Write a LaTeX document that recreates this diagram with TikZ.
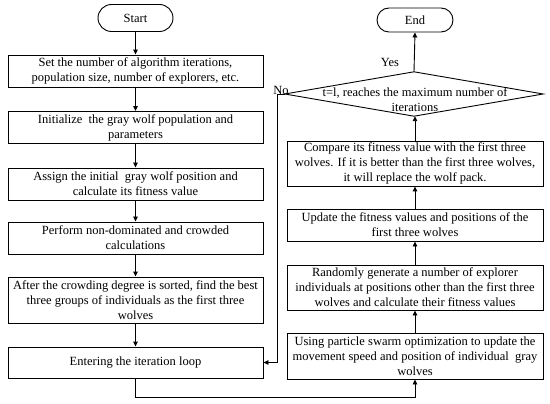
\documentclass[tikz,border=0pt]{standalone}
\usepackage{fontspec}
\setmainfont{Liberation Serif}
\usetikzlibrary{arrows.meta,shapes.misc}
\begin{document}
\begin{tikzpicture}[x=1pt,y=-1pt,
  every node/.style={font=\fontsize{12.5}{15}\selectfont, align=center, inner sep=0pt},
  box/.style={draw, line width=0.9pt, minimum width=#1, minimum height=32},
  box/.default=255,
  term/.style={draw, line width=0.9pt, rounded rectangle, minimum width=75, minimum height=27},
  conn/.style={line width=0.9pt, -{Triangle[length=5pt,width=4.5pt]}},
  line/.style={line width=0.9pt}]
\useasboundingbox (0,0) rectangle (550,404);
% left column
\node[term] (start) at (135.5,18) {Start};
\node[box] (b1) at (135.5,71) {Set the number of algorithm iterations,\\population size, number of explorers, etc.};
\node[box] (b2) at (135.5,127.5) {Initialize\ \ the gray wolf population and\\parameters};
\node[box] (b3) at (135.5,184) {Assign the initial\ \ gray wolf position and\\calculate its fitness value};
\node[box] (b4) at (135.5,238) {Perform non-dominated and crowded\\calculations};
\node[box, minimum height=46] (b5) at (135.5,300) {After the crowding degree is sorted, find the best\\three groups of individuals as the first three\\wolves};
\node[box, minimum height=31] (b6) at (135.5,362.5) {Entering the iteration loop};
% right column
\node[term, minimum height=24, minimum width=76] (end) at (415,20) {End};
\node[minimum width=258, minimum height=44] (dia) at (414,94) {};
\draw[line] (dia.west) -- (dia.north) -- (dia.east) -- (dia.south) -- cycle;
\node (dtext) at (415,100) {t=l, reaches the maximum number of\\iterations};
\node[box=256, minimum height=45] (r1) at (415,163.5) {Compare its fitness value with the first three\\wolves. If it is better than the first three wolves,\\it will replace the wolf pack.};
\node[box=256] (r2) at (415,225) {Update the fitness values and positions of the\\first three wolves};
\node[box=256, minimum height=45] (r3) at (415,287.5) {Randomly generate a number of explorer\\individuals at positions other than the first three\\wolves and calculate their fitness values};
\node[box=256, minimum height=46] (r4) at (415,356) {Using particle swarm optimization to update the\\movement speed and position of individual\ \ gray\\wolves};
% labels
\node (yes) at (390,62) {Yes};
\node (no) at (281,90) {No};
% connectors left
\draw[conn] (start) -- (b1);
\draw[conn] (b1) -- (b2);
\draw[conn] (b2) -- (b3);
\draw[conn] (b3) -- (b4);
\draw[conn] (b4) -- (b5);
\draw[conn] (b5) -- (b6);
% loop
\coordinate (c1) at (135.5,397);
\coordinate (c2) at (415,397);
\draw[conn] (b6.south) -- (c1) -- (c2) -- (r4.south);
\draw[conn] (r4) -- (r3);
\draw[conn] (r3) -- (r2);
\draw[conn] (r2) -- (r1);
\draw[conn] (r1.north) -- (r1.north |- dia.south);
\draw[conn] (dia.north) -- (end.south);
\coordinate (n1) at (277.5,94);
\coordinate (n2) at (277.5,362.5);
\draw[conn] (dia.west) -- (n1) -- (n2) -- (b6.east);
\end{tikzpicture}
\end{document}
